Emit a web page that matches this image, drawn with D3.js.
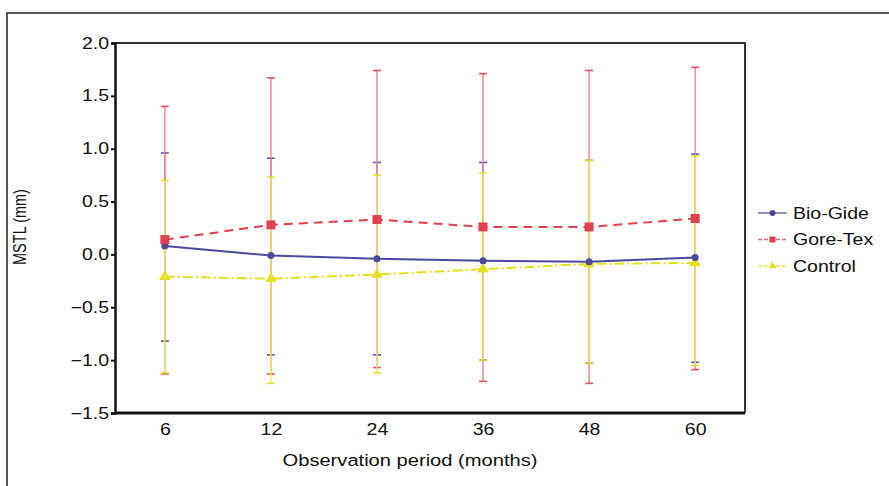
<!DOCTYPE html>
<html>
<head>
<meta charset="utf-8">
<script src="https://cdn.jsdelivr.net/npm/d3@7/dist/d3.min.js"></script>
<style>
  html, body { margin: 0; padding: 0; background: #fff; }
  svg { display: block; font-family: "Liberation Sans", Arial, sans-serif; }
</style>
</head>
<body>
<svg id="chart" width="889" height="486"></svg>
<script>
// observation periods (months)
const periods = ["6", "12", "24", "36", "48", "60"];
const yTicks = [-1.5, -1.0, -0.5, 0.0, 0.5, 1.0, 1.5, 2.0];

// Bio-Gide
const bioMean = [0.08, -0.01, -0.04, -0.06, -0.07, -0.03];
const bioHigh = [0.96, 0.91, 0.87, 0.87, 0.89, 0.95];
const bioLow = [-0.82, -0.95, -0.95, -1.00, -1.03, -1.02];

// Gore-Tex
const goreMean = [0.14, 0.28, 0.33, 0.26, 0.26, 0.34];
const goreHigh = [1.40, 1.67, 1.74, 1.71, 1.74, 1.77];
const goreLow = [-1.13, -1.13, -1.07, -1.20, -1.22, -1.09];

// Control
const ctrlMean = [-0.21, -0.23, -0.19, -0.14, -0.09, -0.08];
const ctrlHigh = [0.70, 0.73, 0.75, 0.77, 0.89, 0.93];
const ctrlLow = [-1.12, -1.22, -1.12, -1.00, -1.03, -1.05];

const seriesList = [
  { name: "Bio-Gide", mean: bioMean, high: bioHigh, low: bioLow, color: "#4b4a9c", barColor: "#8f8fc8", dash: null, marker: "circle", size: 7 },
  { name: "Gore-Tex", mean: goreMean, high: goreHigh, low: goreLow, color: "#e0404f", barColor: "#ee8090", dash: "9,6", marker: "square", size: 9 },
  { name: "Control", mean: ctrlMean, high: ctrlHigh, low: ctrlLow, color: "#e6e020", barColor: "#eeec5c", dash: "10,3,2,3", marker: "triangle", size: 9 }
];

const STRETCH = 1.22; // text in the figure is horizontally stretched
const svg = d3.select("#chart");
const plot = { left: 115, right: 745, top: 43, bottom: 413 };

// outer frame
svg.append("path")
  .attr("d", "M7,490 L7,13 L895,13")
  .attr("fill", "none")
  .attr("stroke", "#222")
  .attr("stroke-width", 1.5);

const x = d3.scalePoint().domain(periods).range([plot.left, plot.right]).padding(0.47);
const y = d3.scaleLinear().domain([-1.5, 2.0]).range([plot.bottom, plot.top]);

// plot box: top and right thinner
svg.append("path")
  .attr("d", `M${plot.left},${plot.top} L${plot.right},${plot.top} L${plot.right},${plot.bottom}`)
  .attr("fill", "none")
  .attr("stroke", "#333")
  .attr("stroke-width", 2);

// y axis
const yAxis = svg.append("g")
  .attr("transform", `translate(${plot.left},0)`)
  .call(d3.axisLeft(y).tickValues(yTicks).tickSize(4).tickPadding(3)
    .tickFormat(d => d3.format(".1f")(d).replace("-", "\u2212")));
yAxis.select(".domain").attr("stroke", "#111").attr("stroke-width", 2.5);
yAxis.selectAll(".tick line").attr("stroke", "#111").attr("stroke-width", 2);
yAxis.selectAll(".tick text").attr("font-size", 16).attr("fill", "#111")
  .attr("font-family", "Liberation Sans, Arial, sans-serif")
  .attr("x", -6 / STRETCH)
  .attr("transform", `scale(${STRETCH},1)`);

// x axis
const xAxis = svg.append("g")
  .attr("transform", `translate(0,${plot.bottom})`)
  .call(d3.axisBottom(x).tickSize(0).tickPadding(11));
xAxis.select(".domain").attr("d", `M${plot.left},0H${plot.right}`)
  .attr("stroke", "#111").attr("stroke-width", 3);
xAxis.selectAll(".tick text").attr("font-size", 16).attr("fill", "#111")
  .attr("font-family", "Liberation Sans, Arial, sans-serif")
  .attr("transform", `scale(${STRETCH},1)`);

// error bars: bio-gide under, gore-tex, control on top
seriesList.forEach(s => {
  const g = svg.append("g").attr("class", "errbars");
  periods.forEach((p, i) => {
    const cx = x(p);
    g.append("line")
      .attr("x1", cx).attr("x2", cx)
      .attr("y1", y(s.high[i])).attr("y2", y(s.low[i]))
      .attr("stroke", s.barColor).attr("stroke-width", 1.4);
    [s.high[i], s.low[i]].forEach(v => {
      g.append("line")
        .attr("x1", cx - 4).attr("x2", cx + 4)
        .attr("y1", y(v)).attr("y2", y(v))
        .attr("stroke", s.color).attr("stroke-width", 1.6).attr("opacity", 0.9);
    });
  });
});

// lines and markers
function drawMarker(g, type, cx, cy, color, size) {
  if (type === "circle") {
    g.append("circle").attr("cx", cx).attr("cy", cy).attr("r", size / 2).attr("fill", color);
  } else if (type === "square") {
    g.append("rect").attr("x", cx - size / 2).attr("y", cy - size / 2)
      .attr("width", size).attr("height", size).attr("fill", color);
  } else {
    g.append("path")
      .attr("d", d3.symbol().type(d3.symbolTriangle).size(size * size * 0.7)())
      .attr("transform", `translate(${cx},${cy})`).attr("fill", color);
  }
}

const line = d3.line().x(d => x(d.p)).y(d => y(d.v));
[seriesList[2], seriesList[0], seriesList[1]].forEach(s => {
  const pts = periods.map((p, i) => ({ p, v: s.mean[i] }));
  const g = svg.append("g");
  g.append("path")
    .attr("d", line(pts))
    .attr("fill", "none")
    .attr("stroke", s.color)
    .attr("stroke-width", 2)
    .attr("stroke-dasharray", s.dash);
  pts.forEach(d => drawMarker(g, s.marker, x(d.p), y(d.v), s.color, s.size));
});

// legend
const legend = svg.append("g").attr("transform", "translate(758,213)");
seriesList.forEach((s, i) => {
  const g = legend.append("g").attr("transform", `translate(0,${i * 26.5})`);
  g.append("line").attr("x1", 0).attr("x2", 29).attr("y1", 0).attr("y2", 0)
    .attr("stroke", s.color).attr("stroke-width", 1.5).attr("opacity", 0.8)
    .attr("stroke-dasharray", s.dash ? "4,2" : null);
  drawMarker(g, s.marker, 14.5, 0, s.color, 6);
  g.append("text").attr("x", 35 / STRETCH).attr("y", 0).attr("dy", "0.36em")
    .attr("transform", `scale(${STRETCH},1)`)
    .attr("font-size", 16).attr("fill", "#111").text(s.name);
});

// axis titles
svg.append("text")
  .attr("transform", `translate(26,227) rotate(-90) scale(1,${STRETCH})`)
  .attr("text-anchor", "middle").attr("font-size", 14.5).attr("fill", "#111")
  .text("MSTL (mm)");
svg.append("text")
  .attr("transform", `translate(410,466) scale(${STRETCH},1)`)
  .attr("text-anchor", "middle").attr("font-size", 16.5).attr("fill", "#111")
  .text("Observation period (months)");
</script>
</body>
</html>
